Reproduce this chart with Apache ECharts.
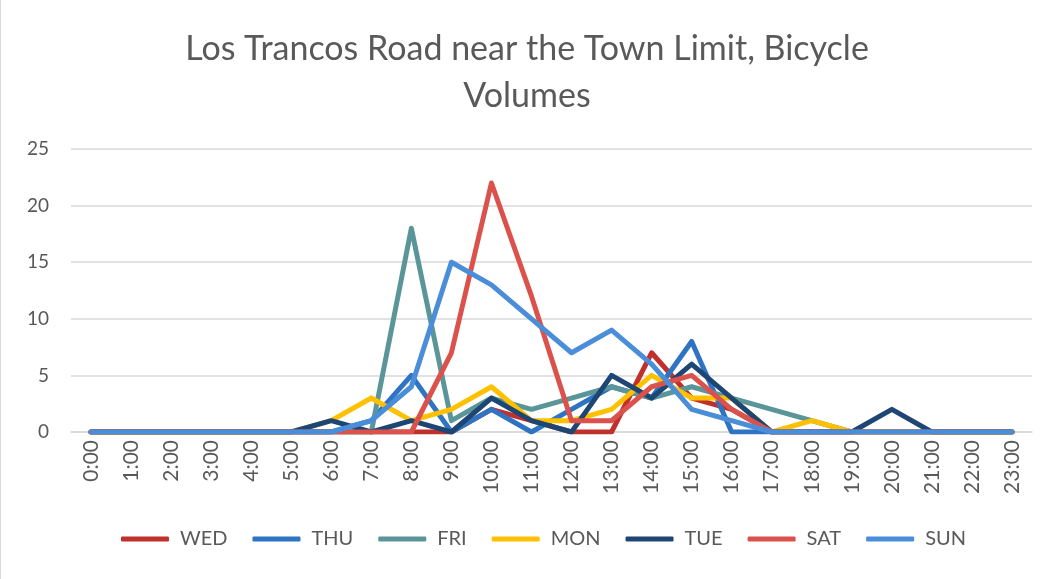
<!DOCTYPE html>
<html>
<head>
<meta charset="utf-8">
<script src="https://cdn.jsdelivr.net/npm/echarts@6/dist/echarts.min.js"></script>
<style>
html,body{margin:0;padding:0;background:#fff;}
#c{width:1053px;height:579px;box-sizing:border-box;border-left:1px solid #d9d9d9;}
</style>
</head>
<body>
<div id="c"></div>
<script>
const hours = ['0:00','1:00','2:00','3:00','4:00','5:00','6:00','7:00','8:00','9:00','10:00','11:00','12:00','13:00','14:00','15:00','16:00','17:00','18:00','19:00','20:00','21:00','22:00','23:00'];
const seriesNames = ['WED','THU','FRI','MON','TUE','SAT','SUN'];
const wed = [0,0,0,0,0,0,0,0,0,0,2,1,0,0,7,3,2,0,0,0,0,0,0,0];
const thu = [0,0,0,0,0,0,0,1,5,0,2,0,2,4,3,8,0,0,0,0,0,0,0,0];
const fri = [0,0,0,0,0,0,0,0,18,1,3,2,3,4,3,4,3,2,1,0,0,0,0,0];
const mon = [0,0,0,0,0,0,1,3,1,2,4,1,1,2,5,3,3,0,1,0,0,0,0,0];
const tue = [0,0,0,0,0,0,1,0,1,0,3,1,0,5,3,6,3,0,0,0,2,0,0,0];
const sat = [0,0,0,0,0,0,0,0,0,7,22,12,1,1,4,5,2,0,0,0,0,0,0,0];
const sun = [0,0,0,0,0,0,0,1,4,15,13,10,7,9,6,2,1,0,0,0,0,0,0,0];
const colors = ['#C0312C','#2E74C3','#5A9599','#FFC000','#1E4674','#DB514C','#4A8DD8'];
const allData = [wed,thu,fri,mon,tue,sat,sun];

const chart = echarts.init(document.getElementById('c'));
const font = 'Lato, "Open Sans", sans-serif';
chart.setOption({
  animation:false,
  color:colors,
  title:{
    text:'Los Trancos Road near the Town Limit, Bicycle\nVolumes',
    left:'center', top:21,
    textStyle:{fontFamily:font,fontSize:34,fontWeight:'normal',color:'#595959',lineHeight:47}
  },
  legend:{
    bottom:25, left:115,
    itemWidth:48, itemHeight:5, itemGap:25,
    icon:'roundRect',
    textStyle:{fontFamily:font,fontSize:20,color:'#595959',padding:[0,0,0,6]},
    data:seriesNames
  },
  grid:{left:70,right:21,top:149,bottom:147,containLabel:false},
  xAxis:{
    type:'category', data:hours, boundaryGap:true,
    axisLine:{show:true,lineStyle:{color:'#d9d9d9',width:1.5}},
    axisTick:{show:false},
    axisLabel:{rotate:90,interval:0,fontFamily:font,fontSize:21,color:'#595959',margin:8}
  },
  yAxis:{
    type:'value', min:0, max:25, interval:5,
    axisLine:{show:false}, axisTick:{show:false},
    splitLine:{lineStyle:{color:'#d9d9d9',width:1.5}},
    axisLabel:{fontFamily:font,fontSize:19,color:'#595959',margin:22}
  },
  series: seriesNames.map((n,i)=>({
    name:n, type:'line', data:allData[i],
    symbol:'none', lineStyle:{width:5,cap:'round',join:'round'},
    itemStyle:{color:colors[i]}
  }))
});
</script>
</body>
</html>
